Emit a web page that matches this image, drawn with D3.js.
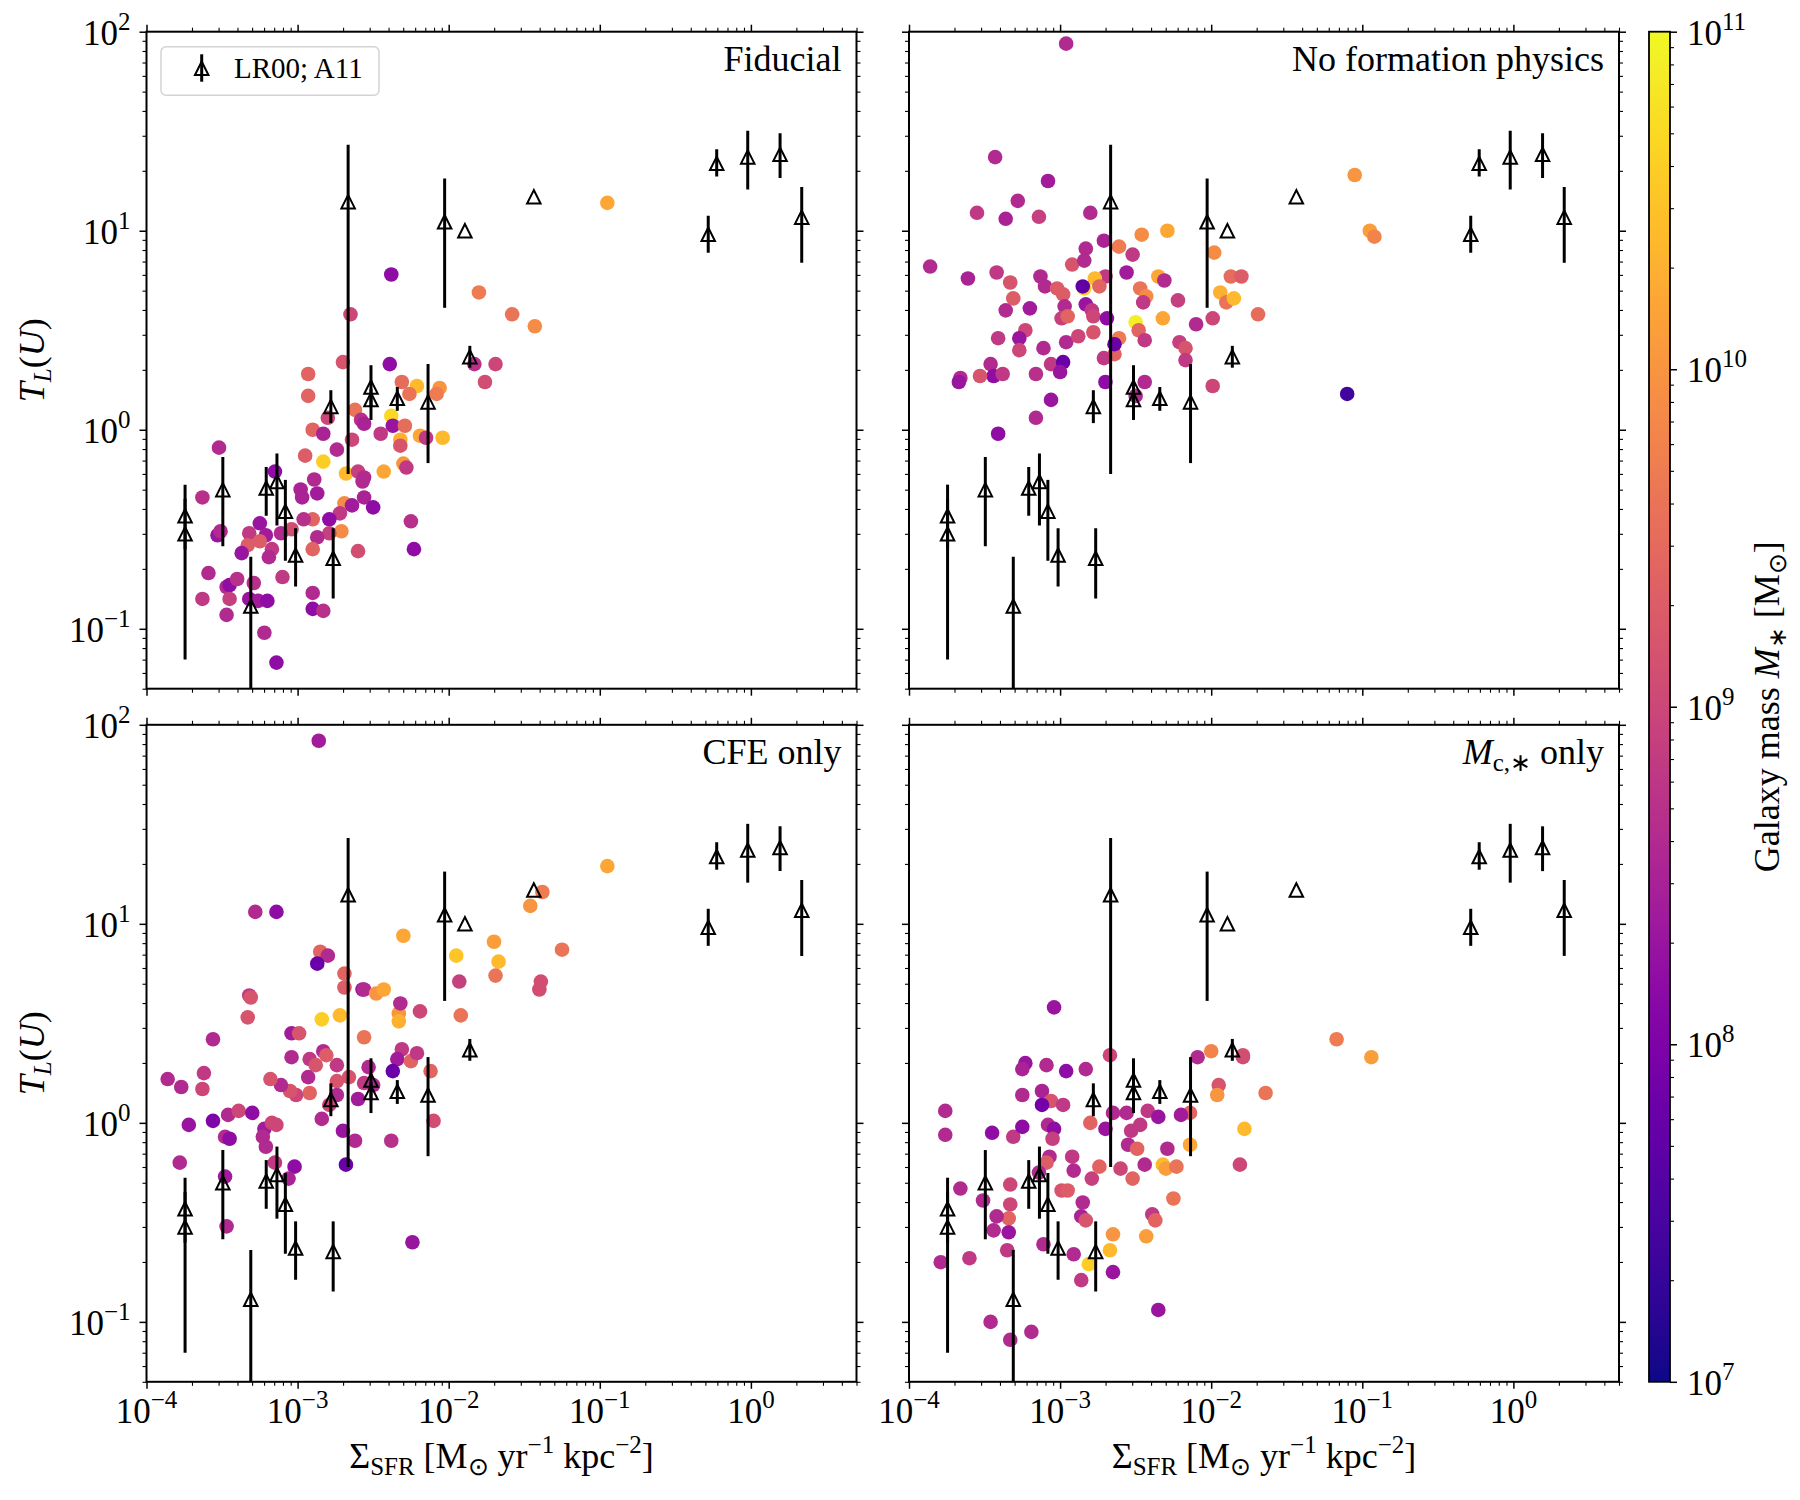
<!DOCTYPE html>
<html>
<head>
<meta charset="utf-8">
<script src="https://cdn.jsdelivr.net/npm/d3@7"></script>
<style>
body{margin:0;background:#fff}
text{font-family:"Liberation Serif","Times New Roman",serif;fill:#000}
</style>
</head>
<body>
<svg id="fig" width="1800" height="1500"></svg>
<script>
// observations (LR00; A11), same in every panel. null = no error bar
var obsSfr = [1.8e-4,1.8e-4,3.2e-4,4.9e-4,6.2e-4,7.3e-4,8.3e-4,9.7e-4,1.72e-3,2.16e-3,1.66e-3,3.06e-3,3.06e-3,4.57e-3,7.3e-3,9.4e-3,1.28e-2,1.38e-2,3.66e-2,0.594,0.953,1.56,0.522,2.17];
var obsTL  = [0.37,0.30,0.50,0.13,0.51,0.55,0.39,0.235,0.226,14.0,1.31,1.64,1.42,1.44,1.38,11.1,10.0,2.33,14.8,21.8,23.5,24.2,9.6,11.7];
var obsLo  = [0.25,0.07,0.26,0.02,0.37,0.33,0.22,0.163,0.142,0.60,1.08,1.30,1.12,1.245,0.68,4.1,null,2.05,null,18.7,16.1,18.4,7.75,6.9];
var obsHi  = [0.53,0.45,0.73,0.23,0.65,0.76,0.56,0.32,0.32,27.0,1.58,2.11,1.60,1.64,2.14,18.3,null,2.64,null,25.7,31.8,30.9,11.9,16.6];

// simulated clusters: [log10 Sigma_SFR, log10 T_L(U), log10 M_*]
var fiducial = [[-2.38,0.78,8.2],[-2.65,0.58,9.0],[-2.70,0.34,9.2],[-2.39,0.33,8.2],[-2.93,0.28,9.4],[-2.93,0.17,9.4],[-2.31,0.24,9.5],[-2.21,0.22,10.4],[-2.26,0.18,9.6],[-2.06,0.21,10.0],[-2.08,0.18,9.7],[-2.62,0.10,9.6],[-2.80,0.06,9.0],[-2.58,0.05,8.7],[-2.56,0.03,8.5],[-2.38,0.07,10.7],[-2.37,0.02,8.3],[-2.29,0.02,9.5],[-2.90,0.00,9.4],[-2.83,-0.02,8.5],[-2.64,-0.05,9.0],[-2.45,-0.02,8.8],[-2.74,-0.10,8.6],[-2.95,-0.13,9.3],[-2.83,-0.16,10.6],[-2.32,-0.05,10.3],[-2.32,-0.08,9.2],[-2.19,-0.03,10.2],[-2.15,-0.04,8.8],[-2.04,-0.04,10.4],[-2.30,-0.17,10.0],[-2.28,-0.19,8.8],[-2.43,-0.21,10.2],[-2.68,-0.22,10.4],[-2.60,-0.21,8.9],[-2.56,-0.24,8.6],[-2.57,-0.26,8.6],[-3.15,-0.21,8.2],[-2.89,-0.25,8.6],[-2.98,-0.30,8.5],[-2.97,-0.34,8.5],[-2.87,-0.32,8.4],[-2.56,-0.34,8.5],[-2.50,-0.39,8.2],[-2.69,-0.37,9.9],[-2.64,-0.38,8.4],[-2.72,-0.42,8.8],[-2.79,-0.45,8.2],[-2.90,-0.45,9.4],[-2.96,-0.45,8.7],[-2.71,-0.51,9.9],[-2.79,-0.52,8.9],[-2.87,-0.54,8.6],[-2.90,-0.60,9.4],[-3.04,-0.50,9.1],[-3.11,-0.52,8.6],[-3.25,-0.47,8.3],[-3.21,-0.53,8.4],[-3.32,-0.52,8.8],[-3.25,-0.56,9.3],[-3.33,-0.58,9.3],[-3.17,-0.60,8.8],[-3.19,-0.64,8.6],[-3.37,-0.62,8.3],[-3.52,-0.09,8.6],[-3.63,-0.34,8.7],[-3.53,-0.53,8.3],[-3.51,-0.51,8.6],[-3.59,-0.72,8.6],[-3.63,-0.85,8.8],[-3.47,-0.79,8.6],[-3.45,-0.78,8.2],[-3.40,-0.75,8.7],[-3.45,-0.85,8.9],[-3.47,-0.93,8.6],[-3.29,-0.77,8.7],[-3.32,-0.85,8.3],[-3.26,-0.86,8.4],[-3.20,-0.86,8.2],[-3.10,-0.74,8.8],[-3.22,-1.02,8.6],[-3.14,-1.17,8.2],[-2.90,-0.82,8.6],[-2.90,-0.90,8.2],[-2.83,-0.91,8.7],[-2.60,-0.61,9.1],[-2.25,-0.46,8.7],[-2.23,-0.60,8.2],[-1.80,0.69,9.7],[-1.58,0.58,9.6],[-1.43,0.52,9.9],[-0.95,1.14,10.2],[-1.83,0.33,8.7],[-1.69,0.33,9.0],[-1.76,0.24,9.1]];

var noPhysics = [[-2.96,1.94,8.6],[-3.43,1.37,8.6],[-3.08,1.25,8.4],[-3.28,1.15,8.6],[-3.55,1.09,8.8],[-3.36,1.06,8.5],[-3.14,1.07,8.9],[-2.80,1.09,8.6],[-3.86,0.82,8.6],[-3.61,0.76,8.5],[-3.42,0.79,8.8],[-3.33,0.74,9.2],[-3.31,0.66,9.3],[-3.13,0.77,8.6],[-3.10,0.72,8.6],[-3.02,0.71,9.3],[-2.98,0.68,9.3],[-2.92,0.83,9.2],[-2.84,0.85,8.6],[-2.83,0.91,8.6],[-2.71,0.95,8.5],[-2.61,0.92,9.7],[-2.52,0.88,8.8],[-2.46,0.98,9.9],[-2.29,1.00,10.2],[-2.70,0.77,8.8],[-2.77,0.76,10.4],[-2.74,0.72,9.4],[-2.84,0.71,10.6],[-2.85,0.72,7.7],[-2.56,0.79,8.4],[-2.35,0.77,10.2],[-2.31,0.75,8.6],[-2.47,0.71,9.6],[-2.43,0.67,9.9],[-2.45,0.64,8.8],[-2.22,0.65,8.9],[-2.97,0.62,8.6],[-2.83,0.63,8.3],[-2.79,0.60,8.8],[-2.78,0.57,9.0],[-2.99,0.56,8.9],[-2.95,0.57,9.4],[-2.69,0.56,8.2],[-3.36,0.60,8.6],[-3.20,0.61,8.4],[-3.23,0.50,9.0],[-3.41,0.46,8.8],[-3.27,0.46,8.3],[-3.27,0.40,9.0],[-3.11,0.41,8.6],[-2.96,0.44,8.6],[-2.88,0.47,9.0],[-2.78,0.49,9.2],[-2.61,0.46,9.7],[-2.64,0.38,9.4],[-2.64,0.43,7.8],[-2.71,0.36,8.8],[-2.50,0.54,10.9],[-2.48,0.50,9.4],[-2.44,0.45,8.8],[-2.32,0.56,10.2],[-2.10,0.53,8.6],[-1.99,0.56,9.0],[-2.21,0.44,8.9],[-2.17,0.41,9.2],[-2.17,0.35,8.8],[-1.98,0.89,9.9],[-1.94,0.69,10.3],[-1.90,0.64,9.6],[-1.85,0.66,10.4],[-1.87,0.77,9.5],[-1.80,0.77,9.3],[-1.69,0.58,9.5],[-3.46,0.33,8.6],[-3.44,0.27,8.2],[-3.53,0.27,9.2],[-3.38,0.28,8.8],[-3.66,0.26,8.6],[-3.67,0.24,8.3],[-3.16,0.28,8.7],[-3.06,0.33,8.8],[-2.98,0.34,7.8],[-3.00,0.29,8.3],[-2.70,0.24,8.2],[-2.44,0.24,8.6],[-2.50,0.17,8.6],[-1.99,0.22,9.0],[-3.06,0.15,8.3],[-3.16,0.06,8.6],[-3.41,-0.02,8.2],[-1.05,1.28,10.0],[-0.95,1.00,10.1],[-0.92,0.97,9.8],[-1.10,0.18,7.4]];

var cfeOnly = [[-2.86,1.92,8.4],[-3.28,1.06,8.6],[-3.14,1.06,8.2],[-0.95,1.29,10.2],[-1.38,1.16,9.7],[-1.46,1.09,10.0],[-2.30,0.94,10.2],[-1.95,0.84,10.5],[-1.70,0.91,10.1],[-1.67,0.81,10.4],[-1.69,0.74,9.6],[-1.25,0.87,9.6],[-1.93,0.71,8.9],[-1.39,0.71,9.1],[-1.40,0.67,9.1],[-1.92,0.54,9.6],[-2.85,0.86,9.4],[-2.80,0.84,8.6],[-2.87,0.80,7.8],[-2.69,0.75,9.4],[-2.69,0.68,9.3],[-2.57,0.67,8.3],[-2.56,0.67,8.6],[-2.48,0.65,10.0],[-2.43,0.67,10.2],[-2.84,0.52,10.6],[-2.72,0.54,10.4],[-2.33,0.55,10.0],[-2.33,0.51,10.3],[-2.32,0.60,8.6],[-2.19,0.56,9.0],[-3.32,0.64,8.8],[-3.31,0.63,9.2],[-3.33,0.53,9.2],[-3.56,0.42,8.6],[-3.04,0.45,8.4],[-2.99,0.45,9.2],[-2.56,0.43,9.6],[-3.04,0.33,8.6],[-2.92,0.32,8.8],[-2.83,0.36,8.6],[-2.81,0.34,9.3],[-2.88,0.29,9.2],[-2.74,0.29,8.8],[-2.31,0.37,8.8],[-2.34,0.32,8.4],[-2.25,0.31,9.4],[-2.21,0.35,8.8],[-2.37,0.26,7.8],[-2.53,0.28,8.6],[-2.66,0.23,9.2],[-2.56,0.20,8.8],[-2.50,0.19,8.6],[-2.74,0.21,9.2],[-2.93,0.23,8.6],[-2.92,0.15,9.4],[-3.01,0.14,9.0],[-3.05,0.16,9.2],[-3.11,0.19,8.6],[-3.18,0.22,9.2],[-2.74,0.14,8.6],[-2.60,0.12,8.4],[-2.79,0.09,9.0],[-2.84,0.02,8.6],[-2.12,0.26,9.4],[-2.10,0.01,9.1],[-2.70,-0.04,8.3],[-2.62,-0.09,8.6],[-2.38,-0.09,8.7],[-2.68,-0.21,7.8],[-2.24,-0.60,8.3],[-3.86,0.22,8.6],[-3.77,0.18,8.6],[-3.62,0.25,8.8],[-3.63,0.17,9.0],[-3.72,-0.01,8.3],[-3.56,0.01,8.0],[-3.46,0.04,8.6],[-3.39,0.06,9.0],[-3.30,0.05,8.2],[-3.48,-0.07,8.6],[-3.45,-0.08,8.2],[-3.22,-0.03,8.4],[-3.23,-0.07,8.6],[-3.17,0.00,9.0],[-3.14,-0.01,9.0],[-3.21,-0.12,8.6],[-3.78,-0.20,8.6],[-3.48,-0.27,8.4],[-3.15,-0.20,8.8],[-3.02,-0.22,8.2],[-3.06,-0.28,8.5],[-3.47,-0.52,8.6]];

var mcOnly = [[-3.04,0.58,8.3],[-1.17,0.42,9.7],[-0.94,0.33,10.1],[-2.67,0.34,9.0],[-2.09,0.33,8.6],[-2.00,0.36,9.8],[-1.79,0.34,9.2],[-1.79,0.33,9.1],[-3.23,0.30,8.3],[-3.25,0.27,8.5],[-3.09,0.29,8.6],[-2.96,0.26,8.2],[-2.83,0.27,8.6],[-3.76,0.06,8.6],[-3.76,-0.06,8.6],[-3.25,0.14,8.6],[-3.12,0.16,8.5],[-3.06,0.11,9.2],[-3.12,0.09,7.9],[-2.98,0.09,8.8],[-3.45,-0.05,8.2],[-3.31,-0.07,8.8],[-3.25,-0.02,8.2],[-3.08,-0.01,8.6],[-3.04,-0.03,8.2],[-3.05,-0.08,8.9],[-3.07,-0.17,8.6],[-3.09,-0.20,9.3],[-3.14,-0.25,8.6],[-2.80,0.00,9.4],[-2.70,-0.03,8.3],[-2.65,0.05,8.6],[-2.56,0.05,8.6],[-2.42,0.06,8.8],[-2.35,0.03,8.3],[-2.14,0.05,9.4],[-2.20,0.04,8.4],[-2.53,-0.04,8.8],[-2.47,-0.01,8.8],[-2.55,-0.11,8.6],[-2.49,-0.13,9.4],[-2.29,-0.13,8.6],[-2.14,-0.11,10.2],[-1.95,0.19,9.2],[-1.96,0.14,10.0],[-1.64,0.15,9.6],[-1.78,-0.03,10.4],[-1.81,-0.21,9.0],[-2.92,-0.17,8.8],[-2.91,-0.24,8.6],[-2.79,-0.28,8.9],[-2.74,-0.22,9.4],[-2.60,-0.23,9.0],[-2.52,-0.28,9.4],[-2.44,-0.21,8.6],[-2.32,-0.21,10.4],[-2.30,-0.23,10.1],[-2.23,-0.22,9.6],[-2.25,-0.38,9.6],[-2.39,-0.46,8.8],[-2.37,-0.49,9.4],[-2.43,-0.57,10.1],[-2.65,-0.56,10.0],[-2.67,-0.64,10.4],[-2.81,-0.71,10.6],[-2.65,-0.75,8.3],[-2.86,-0.79,8.8],[-2.91,-0.66,8.6],[-2.85,-0.40,8.6],[-2.86,-0.47,8.5],[-2.83,-0.49,9.2],[-2.99,-0.34,9.2],[-2.95,-0.34,9.3],[-3.11,-0.61,8.6],[-3.33,-0.31,9.0],[-3.33,-0.41,9.0],[-3.34,-0.48,9.4],[-3.34,-0.55,8.3],[-3.35,-0.64,8.8],[-3.42,-0.47,8.6],[-3.44,-0.54,8.6],[-3.51,-0.39,8.6],[-3.66,-0.33,8.6],[-3.60,-0.68,8.8],[-3.79,-0.70,8.6],[-3.46,-1.00,8.6],[-3.33,-1.09,8.6],[-3.19,-1.05,8.6],[-2.35,-0.94,8.3]];

var xMajor = [-4,-3,-2,-1,0];      // exponents
var yMajor = [-1,0,1,2];
var cbMajor = [7,8,9,10,11];

var svg = d3.select('#fig');
var panelW = 710, panelH = 657;
var cols = [146.5, 909], rows = [31.7, 724.8];

var x = d3.scaleLog().domain([1e-4, 5]).range([0, panelW]);
var y = d3.scaleLog().domain([0.05, 100]).range([panelH, 0]);
var color = function(m){ return d3.interpolatePlasma((m - 7) / 4); };

function minorVals(lo, hi){
  var out = [];
  for(var e = Math.floor(Math.log10(lo)); e <= Math.ceil(Math.log10(hi)); e++){
    for(var k = 2; k <= 9; k++){
      var v = k * Math.pow(10, e);
      if(v >= lo * 0.999 && v <= hi * 1.001) out.push(v);
    }
  }
  return out;
}
function pw(e){ return Math.pow(10, e); }

function drawTicks(g, axisOf, scale, vals, size, w, tx, ty){
  var a = g.append('g').attr('transform', 'translate(' + tx + ',' + ty + ')')
    .call(axisOf(scale).tickValues(vals).tickSize(size).tickSizeOuter(0).tickFormat(''));
  a.select('.domain').remove();
  a.selectAll('line').attr('stroke', '#000').attr('stroke-width', w);
}

function powText(sel, e){
  sel.text('10');
  sel.append('tspan').attr('dy', -15).attr('font-size', 25).text(e < 0 ? '\u2212' + (-e) : '' + e);
}

// triangle like matplotlib '^' (centred on bbox)
function triPath(s){
  var h = s / 2;
  return 'M0,' + (-h) + 'L' + (-h) + ',' + h + 'L' + h + ',' + h + 'Z';
}

var defs = svg.append('defs');
defs.append('clipPath').attr('id', 'pclip').append('rect')
  .attr('x', 0).attr('y', 0).attr('width', panelW).attr('height', panelH);

var panels = [
  {data: fiducial, c: 0, r: 0, title: 'Fiducial'},
  {data: noPhysics, c: 1, r: 0, title: 'No formation physics'},
  {data: cfeOnly, c: 0, r: 1, title: 'CFE only'},
  {data: mcOnly, c: 1, r: 1, title: null}
];

panels.forEach(function(p, pi){
  var g = svg.append('g').attr('transform', 'translate(' + cols[p.c] + ',' + rows[p.r] + ')');
  var inner = g.append('g').attr('clip-path', 'url(#pclip)');

  inner.selectAll('circle.sim').data(p.data).enter().append('circle')
    .attr('class', 'sim')
    .attr('cx', function(d){ return x(pw(d[0])); })
    .attr('cy', function(d){ return y(pw(d[1])); })
    .attr('r', 7.3)
    .attr('fill', function(d){ return color(d[2]); });

  var idx = d3.range(obsSfr.length);
  inner.selectAll('line.err').data(idx.filter(function(i){ return obsLo[i] !== null; })).enter().append('line')
    .attr('class', 'err')
    .attr('x1', function(i){ return x(obsSfr[i]); })
    .attr('x2', function(i){ return x(obsSfr[i]); })
    .attr('y1', function(i){ return y(obsLo[i]); })
    .attr('y2', function(i){ return y(obsHi[i]); })
    .attr('stroke', '#000').attr('stroke-width', 3);
  inner.selectAll('path.obs').data(idx).enter().append('path')
    .attr('class', 'obs')
    .attr('transform', function(i){ return 'translate(' + x(obsSfr[i]) + ',' + y(obsTL[i]) + ')'; })
    .attr('d', triPath(13.5))
    .attr('fill', 'none').attr('stroke', '#000').attr('stroke-width', 2)
    .attr('stroke-linejoin', 'miter');

  // frame
  g.append('rect').attr('width', panelW).attr('height', panelH)
    .attr('fill', 'none').attr('stroke', '#000').attr('stroke-width', 2);

  var xmaj = xMajor.map(pw), xmin = minorVals(1e-4, 5);
  var ymaj = yMajor.map(pw), ymin = minorVals(0.05, 100);
  [[xmaj, 7, 1.5], [xmin, 4, 1.1]].forEach(function(t){
    drawTicks(g, d3.axisBottom, x, t[0], t[1], t[2], 0, panelH);
    drawTicks(g, d3.axisTop, x, t[0], t[1], t[2], 0, 0);
  });
  [[ymaj, 7, 1.5], [ymin, 4, 1.1]].forEach(function(t){
    drawTicks(g, d3.axisLeft, y, t[0], t[1], t[2], 0, 0);
    drawTicks(g, d3.axisRight, y, t[0], t[1], t[2], panelW, 0);
  });

  if(p.c === 0){
    yMajor.forEach(function(e){
      g.append('text').attr('x', -16).attr('y', y(pw(e)) + 13)
        .attr('text-anchor', 'end').attr('font-size', 35).call(powText, e);
    });
    var yl = g.append('text').attr('transform', 'translate(' + (44 - cols[0]) + ',' + (panelH / 2) + ') rotate(-90)')
      .attr('text-anchor', 'middle').attr('font-size', 36);
    yl.append('tspan').attr('font-style', 'italic').text('T');
    yl.append('tspan').attr('font-style', 'italic').attr('font-size', 25).attr('dy', 7).text('L');
    yl.append('tspan').attr('dy', -7).text('(');
    yl.append('tspan').attr('font-style', 'italic').text('U');
    yl.append('tspan').text(')');
  }
  if(p.r === 1){
    xMajor.forEach(function(e){
      g.append('text').attr('x', x(pw(e))).attr('y', panelH + 41)
        .attr('text-anchor', 'middle').attr('font-size', 35).call(powText, e);
    });
    var xl = g.append('text').attr('x', panelW / 2).attr('y', panelH + 86)
      .attr('text-anchor', 'middle').attr('font-size', 36);
    xl.append('tspan').text('\u03a3');
    xl.append('tspan').attr('font-size', 25).attr('dy', 7).text('SFR');
    xl.append('tspan').attr('dy', -7).text(' [M');
    xl.append('tspan').attr('font-size', 25).attr('dy', 7).text('\u2299');
    xl.append('tspan').attr('dy', -7).text(' yr');
    xl.append('tspan').attr('font-size', 25).attr('dy', -15).text('\u22121');
    xl.append('tspan').attr('dy', 15).text(' kpc');
    xl.append('tspan').attr('font-size', 25).attr('dy', -15).text('\u22122');
    xl.append('tspan').attr('dy', 15).text(']');
  }

  var tt = g.append('text').attr('x', panelW - 15).attr('y', 39)
    .attr('text-anchor', 'end').attr('font-size', 36);
  if(p.title){
    tt.text(p.title);
  } else {
    tt.append('tspan').attr('font-style', 'italic').text('M');
    tt.append('tspan').attr('font-size', 25).attr('dy', 7).text('c,\u2217');
    tt.append('tspan').attr('dy', -7).text(' only');
  }

  if(pi === 0){
    var lg = g.append('g').attr('transform', 'translate(14.5,15)');
    lg.append('rect').attr('width', 218).attr('height', 48.5).attr('rx', 5)
      .attr('fill', '#fff').attr('fill-opacity', 0.8)
      .attr('stroke', '#d3d3d3').attr('stroke-width', 1.5);
    lg.append('line').attr('x1', 40.7).attr('x2', 40.7).attr('y1', 7.6).attr('y2', 35)
      .attr('stroke', '#000').attr('stroke-width', 3);
    lg.append('path').attr('transform', 'translate(40.7,21.5)').attr('d', triPath(13.5))
      .attr('fill', 'none').attr('stroke', '#000').attr('stroke-width', 2);
    lg.append('text').attr('x', 73).attr('y', 31.5).attr('font-size', 29).text('LR00; A11');
  }
});

// colorbar
var cbX = 1649, cbW = 21, cbTop = rows[0], cbH = rows[1] + panelH - rows[0];
var cb = d3.scaleLog().domain([1e7, 1e11]).range([cbH, 0]);
var grad = defs.append('linearGradient').attr('id', 'plasma')
  .attr('x1', 0).attr('y1', 1).attr('x2', 0).attr('y2', 0);
d3.range(0, 1.0001, 0.02).forEach(function(t){
  grad.append('stop').attr('offset', t).attr('stop-color', d3.interpolatePlasma(t));
});
var cg = svg.append('g').attr('transform', 'translate(' + cbX + ',' + cbTop + ')');
cg.append('rect').attr('width', cbW).attr('height', cbH).attr('fill', 'url(#plasma)')
  .attr('stroke', '#000').attr('stroke-width', 1.8);
drawTicks(cg, d3.axisRight, cb, cbMajor.map(pw), 7, 1.5, cbW, 0);
drawTicks(cg, d3.axisRight, cb, minorVals(1e7, 1e11), 4, 1.1, cbW, 0);
cbMajor.forEach(function(e){
  cg.append('text').attr('x', cbW + 17).attr('y', cb(pw(e)) + 13)
    .attr('font-size', 35).call(powText, e);
});
var cl = svg.append('text')
  .attr('transform', 'translate(1779,' + (cbTop + cbH / 2) + ') rotate(-90)')
  .attr('text-anchor', 'middle').attr('font-size', 36);
cl.append('tspan').text('Galaxy mass ');
cl.append('tspan').attr('font-style', 'italic').text('M');
cl.append('tspan').attr('font-size', 25).attr('dy', 7).text('\u2217');
cl.append('tspan').attr('dy', -7).text(' [M');
cl.append('tspan').attr('font-size', 25).attr('dy', 7).text('\u2299');
cl.append('tspan').attr('dy', -7).text(']');
</script>
</body>
</html>
